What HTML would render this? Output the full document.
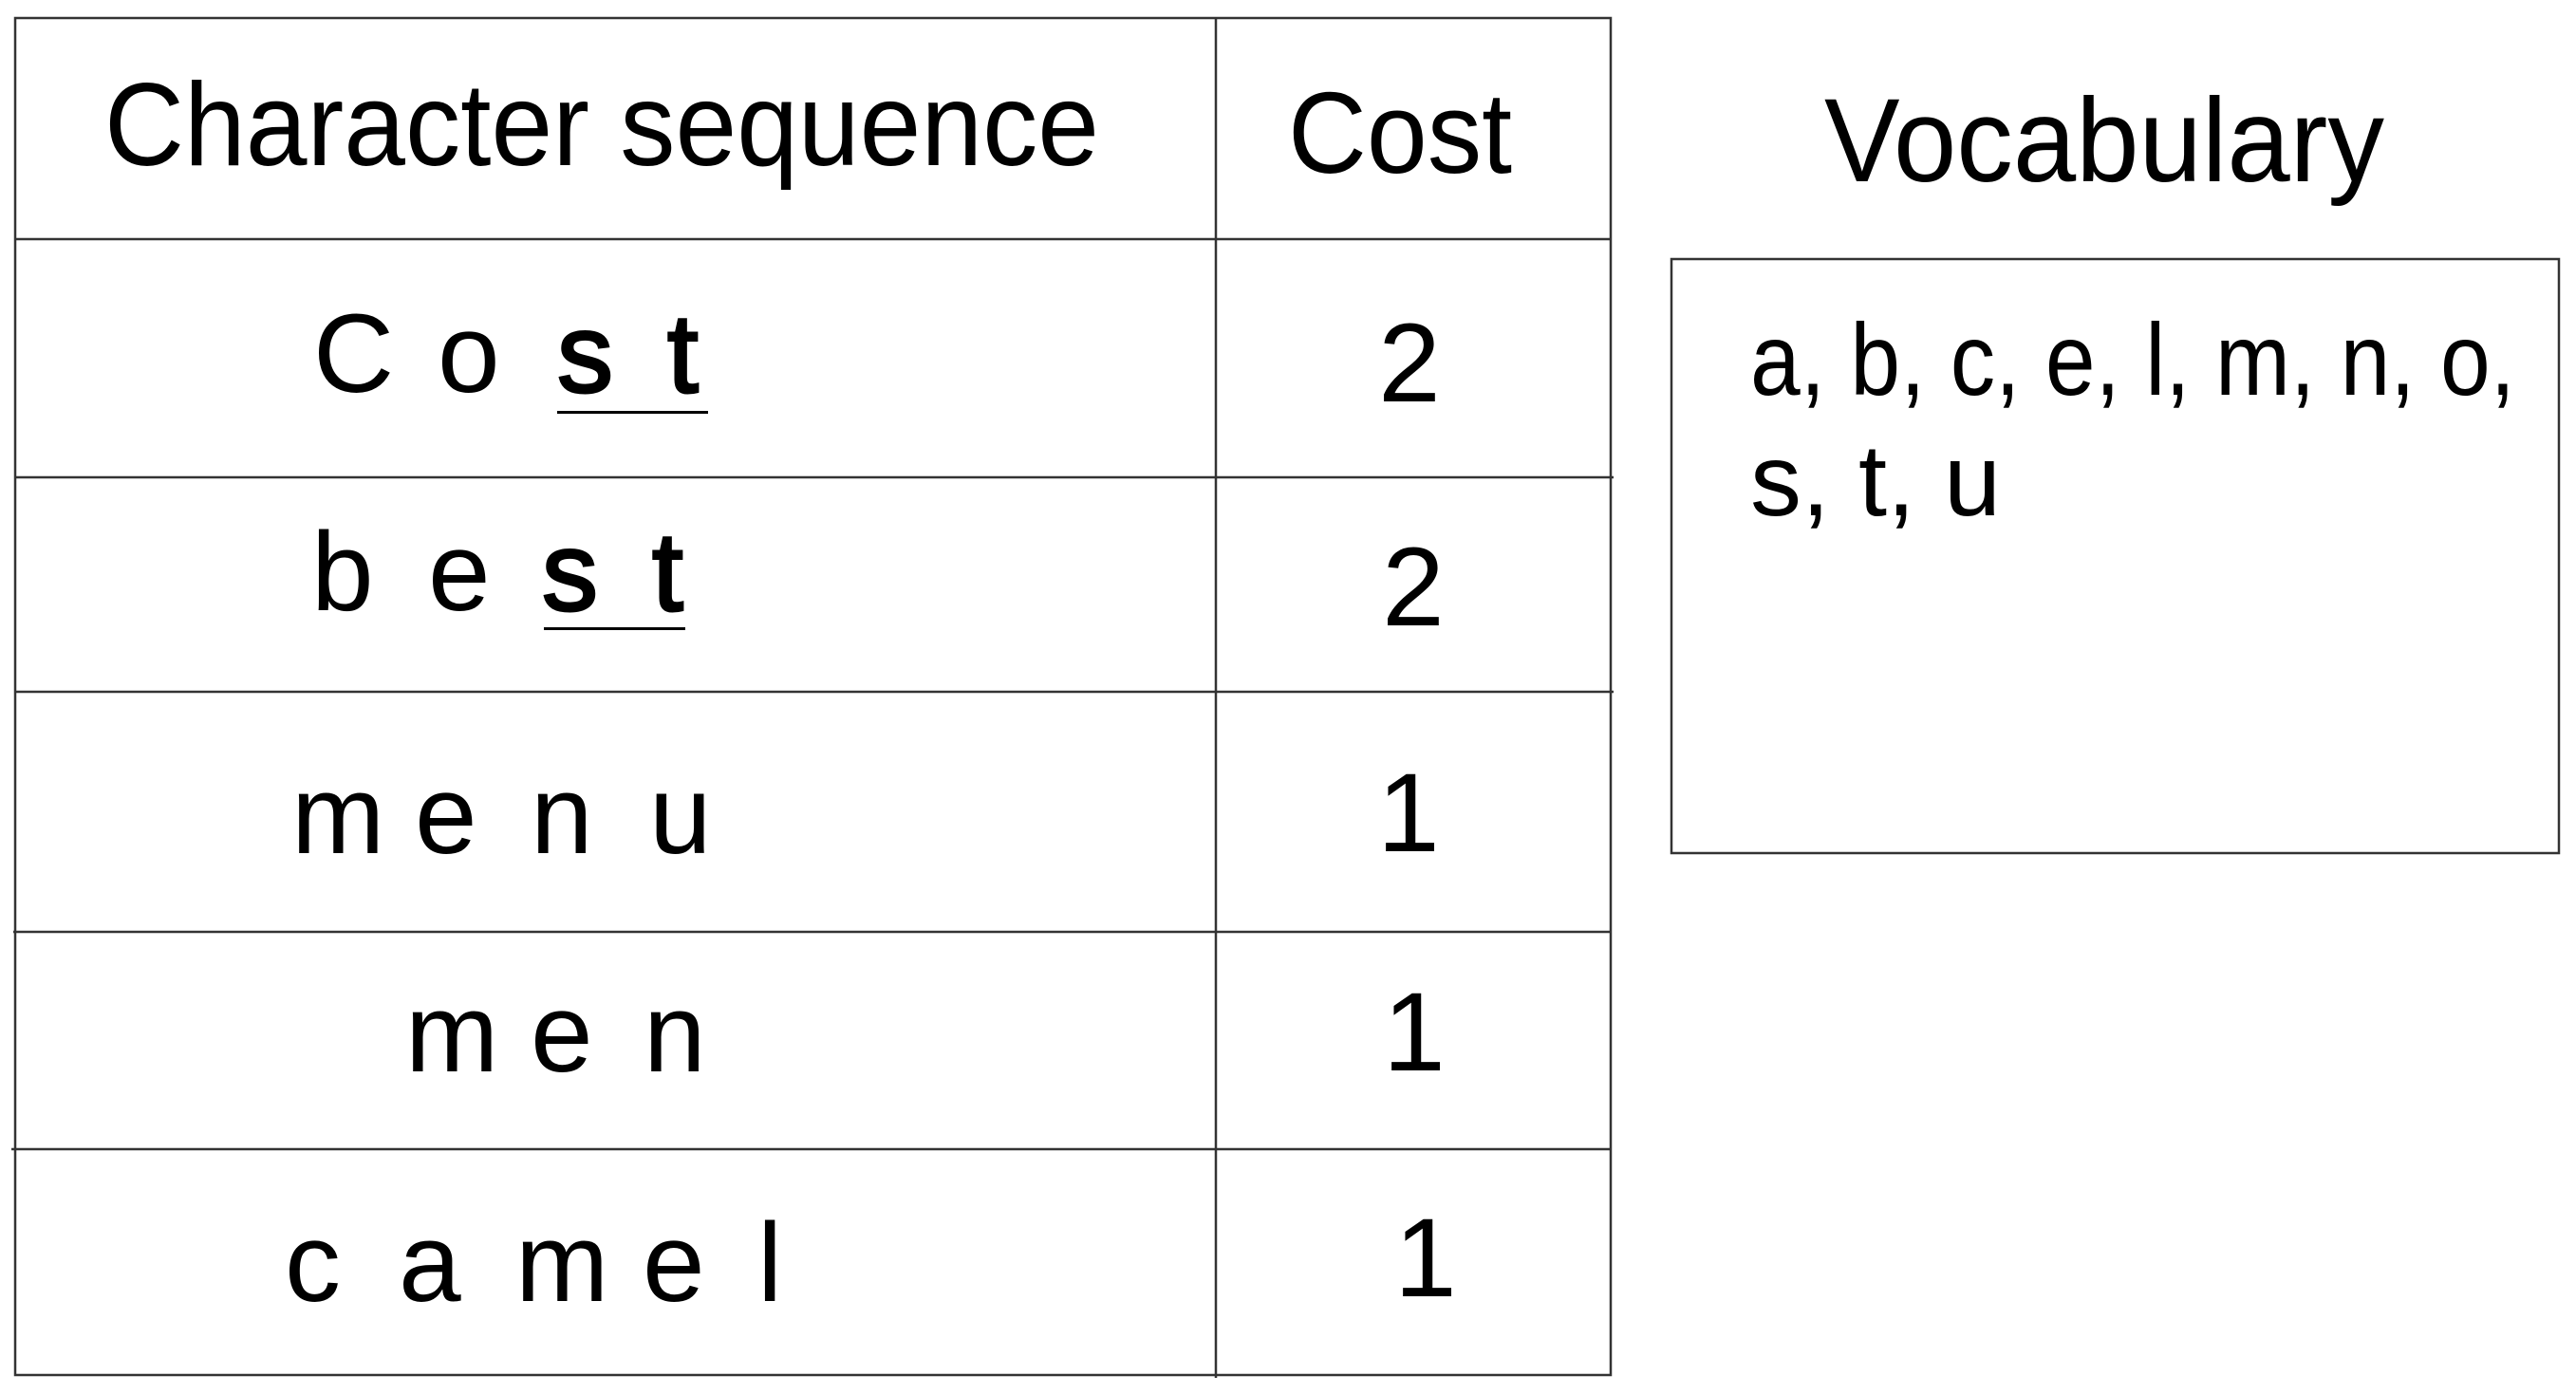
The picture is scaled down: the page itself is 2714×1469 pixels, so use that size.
<!DOCTYPE html>
<html><head><meta charset="utf-8"><style>
html,body{margin:0;padding:0;background:#fff;width:2714px;height:1469px;overflow:hidden}
svg{display:block}
.n{font-family:"Liberation Sans Narrow","Liberation Sans",sans-serif;}
.r{font-family:"Liberation Sans",sans-serif;}
</style></head><body>
<svg width="2714" height="1469" viewBox="0 0 2714 1469" xmlns="http://www.w3.org/2000/svg">
<g stroke="#333" stroke-width="2.5" fill="none">
<rect x="16" y="19" width="1681" height="1430"/>
<line x1="1281" y1="19" x2="1281" y2="1452"/>
<line x1="16" y1="252" x2="1697" y2="252"/>
<line x1="16" y1="503" x2="1700" y2="503"/>
<line x1="16" y1="729" x2="1700" y2="729"/>
<line x1="14" y1="982" x2="1697" y2="982"/>
<line x1="12" y1="1211" x2="1697" y2="1211"/>
<rect x="1761" y="273" width="935" height="626"/>
</g>
<g fill="#000">
<text class="n" x="110" y="174" font-size="124" textLength="1048" lengthAdjust="spacingAndGlyphs">Character sequence</text>
<text class="n" x="1357" y="182" font-size="122" textLength="236" lengthAdjust="spacingAndGlyphs">Cost</text>
<text class="r" x="1922" y="191" font-size="125" textLength="590" lengthAdjust="spacingAndGlyphs">Vocabulary</text>

<g class="n" font-size="118">
<text x="330" y="413">C</text><text x="461" y="413">o</text>
<text x="587" y="413" stroke="#000" stroke-width="3">s</text><text x="703" y="413" stroke="#000" stroke-width="3">t</text>
<text x="328" y="643">b</text><text x="451" y="643">e</text>
<text x="571" y="643" stroke="#000" stroke-width="3">s</text><text x="687" y="643" stroke="#000" stroke-width="3">t</text>
<text x="307" y="899">m</text><text x="437" y="899">e</text><text x="559" y="899">n</text><text x="684" y="899">u</text>
<text x="427" y="1129">m</text><text x="559" y="1129">e</text><text x="678" y="1129">n</text>
<text x="300" y="1371">c</text><text x="420" y="1371">a</text><text x="543" y="1371">m</text><text x="677" y="1371">e</text><text x="798" y="1371">l</text>
<text x="1485" y="423" text-anchor="middle">2</text>
<text x="1489" y="659" text-anchor="middle">2</text>
<text x="1484" y="897" text-anchor="middle">1</text>
<text x="1490" y="1128" text-anchor="middle">1</text>
<text x="1502" y="1366" text-anchor="middle">1</text>
</g>
<rect x="587" y="433" width="159" height="3"/>
<rect x="573" y="661" width="149" height="3"/>

<text class="r" x="1844" y="416" font-size="108" textLength="806" lengthAdjust="spacingAndGlyphs">a, b, c, e, l, m, n, o,</text>
<text class="r" x="1844" y="543" font-size="108">s, t, u</text>
</g>
</svg>
</body></html>
